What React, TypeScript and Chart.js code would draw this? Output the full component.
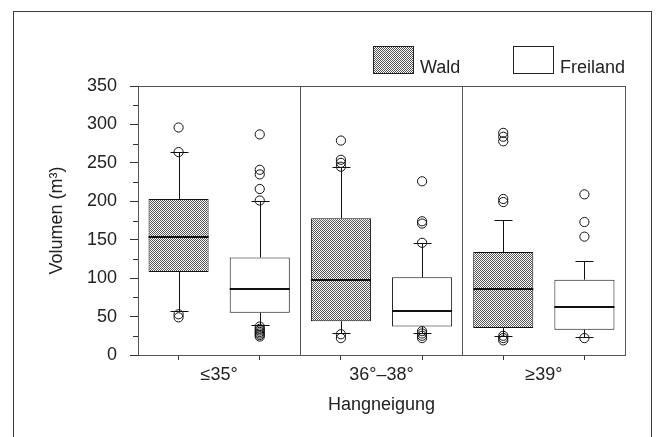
import React, { useEffect, useRef } from 'react';
import { Chart, registerables } from 'chart.js';

Chart.register(...registerables);

// ---- data ----
const categories = ['≤35°', '36°–38°', '≥39°'];
const seriesNames = ['Wald', 'Freiland'];

const waldQ1 = [108, 44, 35];
const waldQ3 = [203, 178, 134];
const waldMedian = [154, 98, 86];
const waldLower = [57, 29, 25];
const waldUpper = [264, 244, 176];
const waldOutliers = [
  [296, 264, 53, 49],
  [279, 254, 250, 245, 27, 22],
  [289, 284, 278, 203, 199, 25, 22, 19],
];

const freiQ1 = [55, 37, 33];
const freiQ3 = [127, 101, 98];
const freiMedian = [86, 57, 62];
const freiLower = [39, 29, 23];
const freiUpper = [200, 146, 122];
const freiOutliers = [
  [287, 241, 235, 216, 201, 37, 34, 32, 30, 28, 26, 24],
  [226, 174, 171, 146, 31, 28, 25, 22],
  [209, 173, 154, 22],
];

const yMajorTicks = [0, 50, 100, 150, 200, 250, 300, 350];
const yMinorTicks = [25, 75, 125, 175, 225, 275, 325];
const xTickValues = [0, 0.5, 1, 1.5, 2, 2.5, 3, 3.5, 4, 4.5, 5, 5.5, 6];
const groupSeparators = [2, 4, 6];
const yTitle = 'Volumen (m³)';
const xTitle = 'Hangneigung';

const FONT = '"Liberation Sans", Arial, Helvetica, sans-serif';
const TEXT = '#222';
const AXIS = '#555';

export default function App() {
  const ref = useRef<HTMLCanvasElement>(null);

  useEffect(() => {
    const canvas = ref.current!;
    const ctx0 = canvas.getContext('2d')!;
    const pc = document.createElement('canvas');
    pc.width = 2;
    pc.height = 2;
    const p = pc.getContext('2d')!;
    p.fillStyle = '#ffffff';
    p.fillRect(0, 0, 2, 2);
    p.fillStyle = '#555555';
    p.fillRect(0, 0, 1, 1);
    p.fillRect(1, 1, 1, 1);
    const pattern = ctx0.createPattern(pc, 'repeat')!;

    const boxes = [
      { label: seriesNames[0], fill: pattern as any, q1: waldQ1, q3: waldQ3, med: waldMedian, lo: waldLower, hi: waldUpper, out: waldOutliers },
      { label: seriesNames[1], fill: '#ffffff', q1: freiQ1, q3: freiQ3, med: freiMedian, lo: freiLower, hi: freiUpper, out: freiOutliers },
    ];
    const boxX = (g: number, s: number) => g * 2 + s + 0.5;
    const groupCenter = (v: number) => {
      const g = (v - 1) / 2;
      return Number.isInteger(g) && g >= 0 && g < categories.length ? categories[g] : '';
    };

    const barSets = boxes.map((b, s) => ({
      type: 'bar' as const,
      label: b.label,
      data: categories.map((_, g) => ({ x: boxX(g, s), y: [b.q1[g], b.q3[g]] })),
      backgroundColor: b.fill,
      borderColor: '#111',
      borderWidth: 1,
      borderSkipped: false,
      grouped: false,
      categoryPercentage: 1,
      barPercentage: 1.48,
    }));
    const outlierSets = boxes.map((b, s) => ({
      type: 'scatter' as const,
      label: b.label + ' Ausreißer',
      data: b.out.flatMap((arr, g) => arr.map((v) => ({ x: boxX(g, s), y: v }))),
      pointStyle: 'circle',
      pointRadius: 4.6,
      borderColor: '#111',
      borderWidth: 1,
      backgroundColor: 'rgba(255,255,255,0)',
    }));

    const whiskerPlugin = {
      id: 'whiskers',
      afterDatasetsDraw(chart: any) {
        const { ctx } = chart;
        const y = chart.scales.y;
        const capHalf = 9;
        boxes.forEach((b, s) => {
          const meta = chart.getDatasetMeta(s);
          meta.data.forEach((bar: any, g: number) => {
            const { x, width } = bar.getProps(['x', 'width'], true);
            const yq1 = y.getPixelForValue(b.q1[g]);
            const yq3 = y.getPixelForValue(b.q3[g]);
            const ylo = Math.round(y.getPixelForValue(b.lo[g])) + 0.5;
            const yhi = Math.round(y.getPixelForValue(b.hi[g])) + 0.5;
            const ymed = Math.round(y.getPixelForValue(b.med[g]));
            const xs = Math.round(x) + 0.5;
            ctx.save();
            ctx.strokeStyle = '#111';
            ctx.lineWidth = 1;
            ctx.beginPath();
            ctx.moveTo(xs, yq3);
            ctx.lineTo(xs, yhi);
            ctx.moveTo(xs - capHalf, yhi);
            ctx.lineTo(xs + capHalf, yhi);
            ctx.moveTo(xs, yq1);
            ctx.lineTo(xs, ylo);
            ctx.moveTo(xs - capHalf, ylo);
            ctx.lineTo(xs + capHalf, ylo);
            ctx.stroke();
            ctx.lineWidth = 2;
            ctx.beginPath();
            ctx.moveTo(x - width / 2, ymed);
            ctx.lineTo(x + width / 2, ymed);
            ctx.stroke();
            ctx.restore();
          });
        });
      },
    };

    const minorTickPlugin = {
      id: 'minorTicks',
      afterDraw(chart: any) {
        const { ctx } = chart;
        const y = chart.scales.y;
        const left = chart.chartArea.left;
        ctx.save();
        ctx.strokeStyle = '#333';
        ctx.lineWidth = 1;
        ctx.beginPath();
        yMinorTicks.forEach((v) => {
          const py = Math.round(y.getPixelForValue(v)) + 0.5;
          ctx.moveTo(left - 5, py);
          ctx.lineTo(left, py);
        });
        ctx.stroke();
        ctx.restore();
      },
    };

    const legendPlugin = {
      id: 'boxLegend',
      afterDraw(chart: any, _args: any, opts: any) {
        const { ctx } = chart;
        opts.items.forEach((it: any, i: number) => {
          const ds = chart.data.datasets[i];
          ctx.save();
          ctx.fillStyle = ds.backgroundColor;
          ctx.fillRect(it.x, it.y, opts.boxWidth, opts.boxHeight);
          ctx.strokeStyle = '#222';
          ctx.lineWidth = 1;
          ctx.strokeRect(it.x + 0.5, it.y + 0.5, opts.boxWidth, opts.boxHeight);
          ctx.fillStyle = TEXT;
          ctx.font = `18px ${FONT}`;
          ctx.textBaseline = 'alphabetic';
          ctx.textAlign = 'left';
          ctx.fillText(ds.label, it.x + opts.boxWidth + 7, it.y + opts.boxHeight);
          ctx.restore();
        });
      },
    };

    const chart = new Chart(canvas, {
      type: 'bar',
      data: { datasets: [...barSets, ...outlierSets] as any },
      options: {
        responsive: false,
        animation: false,
        layout: { padding: { left: 42, top: 86, right: 40, bottom: 0 } },
        plugins: {
          legend: { display: false },
          tooltip: { enabled: false },
          boxLegend: {
            boxWidth: 40,
            boxHeight: 27,
            items: [
              { x: 373, y: 46 },
              { x: 513, y: 46 },
            ],
          },
        } as any,
        scales: {
          x: {
            type: 'linear',
            min: 0,
            max: 6,
            offset: false,
            afterBuildTicks: (s: any) => {
              s.ticks = xTickValues.map((v) => ({ value: v }));
            },
            afterFit: (s: any) => {
              s.height = 82;
            },
            grid: {
              offset: false,
              drawOnChartArea: true,
              lineWidth: 1,
              tickLength: 5,
              color: (c: any) => (c.tick && groupSeparators.includes(c.tick.value) ? AXIS : 'rgba(0,0,0,0)'),
              tickColor: (c: any) => (c.tick && c.tick.value % 1 === 0.5 ? '#333' : 'rgba(0,0,0,0)'),
            },
            border: { display: true, color: AXIS, width: 1 },
            ticks: {
              autoSkip: false,
              maxRotation: 0,
              padding: 4,
              color: TEXT,
              font: { family: FONT, size: 18 },
              callback: (v: any) => groupCenter(Number(v)),
            },
            title: {
              display: true,
              text: xTitle,
              color: TEXT,
              font: { family: FONT, size: 18 },
              padding: { top: 0, bottom: 21 },
            },
          },
          y: {
            min: 0,
            max: 350,
            afterBuildTicks: (s: any) => {
              s.ticks = yMajorTicks.map((v) => ({ value: v }));
            },
            afterFit: (s: any) => {
              s.width = 96;
            },
            grid: {
              drawOnChartArea: true,
              lineWidth: 1,
              tickLength: 8,
              color: (c: any) => (c.tick && c.tick.value === 350 ? AXIS : 'rgba(0,0,0,0)'),
              tickColor: '#333',
            },
            border: { display: true, color: AXIS, width: 1 },
            ticks: {
              autoSkip: false,
              padding: 13,
              color: TEXT,
              font: { family: FONT, size: 18 },
              callback: (v: any) => String(v),
            },
            title: {
              display: true,
              text: yTitle,
              color: TEXT,
              font: { family: FONT, size: 18 },
              padding: { top: 4, bottom: 0 },
            },
          },
        },
      } as any,
      plugins: [whiskerPlugin, minorTickPlugin, legendPlugin],
    });

    return () => chart.destroy();
  }, []);

  return (
    <div style={{ position: 'fixed', left: 0, top: 0, width: 665, height: 437, background: '#fff', overflow: 'hidden' }}>
      <div
        style={{
          position: 'absolute',
          left: 13,
          top: 11,
          width: 639,
          height: 460,
          boxSizing: 'border-box',
          border: '1px solid #3c3c3c',
        }}
      />
      <canvas ref={ref} width={665} height={437} style={{ position: 'absolute', left: 0, top: 0 }} />
    </div>
  );
}
